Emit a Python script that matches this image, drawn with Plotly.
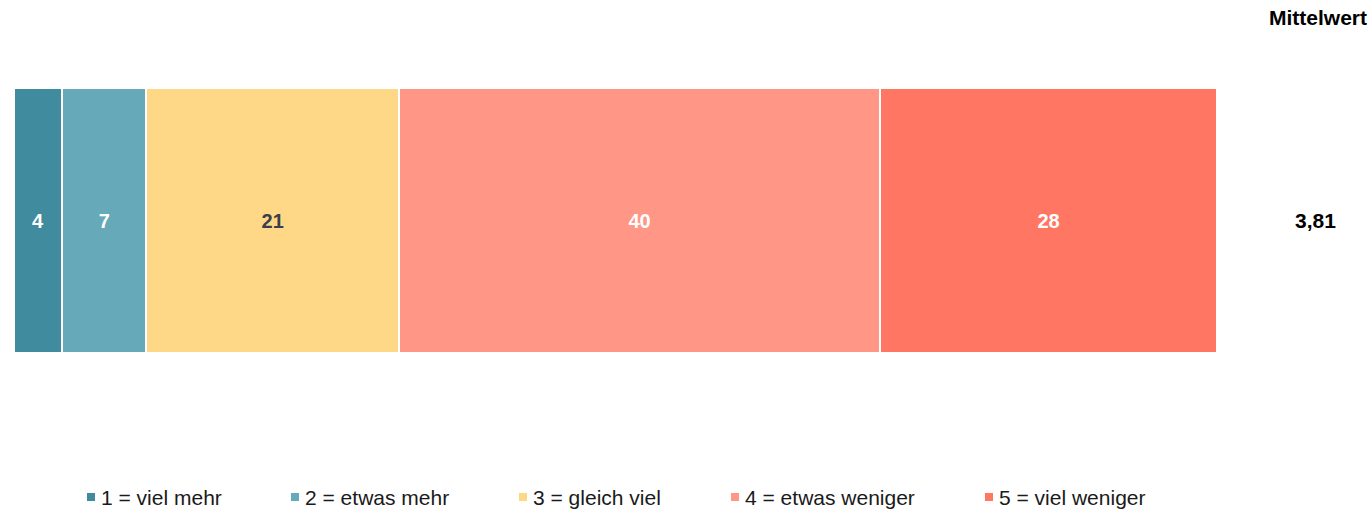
import plotly.graph_objects as go

W, H = 1372, 510

# data
CATEGORIES = ["1 = viel mehr", "2 = etwas mehr", "3 = gleich viel",
              "4 = etwas weniger", "5 = viel weniger"]
VALUES = [4, 7, 21, 40, 28]
MEAN = 3.81
MEAN_TITLE = "Mittelwert"

COLORS = ["#408C9E", "#66AAB9", "#FED887", "#FF9686", "#FF7663"]
TEXT_COLORS = ["white", "white", "#3A3F4B", "white", "white"]

FONT = "Liberation Sans, Arial, sans-serif"

# legend layout (pixel positions of the square markers)
LEGEND_X = [87, 291, 519, 731, 985]
LEGEND_Y = 497
SQ = 8


def px_x(x):
    return x / W


def px_y(y):
    return 1 - y / H


fig = go.Figure()

for name, val, color, tcolor in zip(CATEGORIES, VALUES, COLORS, TEXT_COLORS):
    fig.add_trace(go.Bar(
        x=[val],
        y=[0],
        name=name,
        orientation="h",
        width=0.5196,
        marker=dict(color=color, line=dict(color="white", width=2)),
        text=[str(val)],
        textposition="inside",
        insidetextanchor="middle",
        textangle=0,
        constraintext="none",
        textfont=dict(family=FONT, size=20, color=tcolor, weight="bold"),
        hovertemplate="%{fullData.name}: %{x}<extra></extra>",
    ))

# mean column
fig.add_annotation(
    x=px_x(1315), xref="paper", y=0, yref="y",
    text="<b>" + f"{MEAN:.2f}".replace(".", ",") + "</b>",
    showarrow=False, xanchor="center", yanchor="middle",
    font=dict(family=FONT, size=21, color="black"),
)
fig.add_annotation(
    x=px_x(1369), xref="paper", y=px_y(18), yref="paper",
    text="<b>" + MEAN_TITLE + "</b>",
    showarrow=False, xanchor="right", yanchor="middle",
    font=dict(family=FONT, size=21, color="black"),
)

# legend drawn by hand: small squares close to the text
for name, color, lx in zip(CATEGORIES, COLORS, LEGEND_X):
    fig.add_shape(
        type="rect", xref="paper", yref="paper",
        x0=px_x(lx), x1=px_x(lx + SQ),
        y0=px_y(LEGEND_Y + SQ / 2), y1=px_y(LEGEND_Y - SQ / 2),
        fillcolor=color, line=dict(width=0),
    )
    fig.add_annotation(
        x=px_x(lx + 12), xref="paper", y=px_y(LEGEND_Y), yref="paper",
        text=name, showarrow=False, xanchor="left", yanchor="middle",
        font=dict(family=FONT, size=21, color="#1a1a1a"),
    )

fig.update_layout(
    width=W,
    height=H,
    barmode="stack",
    showlegend=False,
    paper_bgcolor="white",
    plot_bgcolor="white",
    margin=dict(l=0, r=0, t=0, b=0),
    xaxis=dict(domain=[px_x(14), px_x(1217)], range=[0, 100],
               visible=False, fixedrange=True),
    yaxis=dict(range=[-0.5676, 0.4324], visible=False, fixedrange=True),
)

# remove the default body margin so the figure fills the window exactly
fig.write_html("out.html", config={"displayModeBar": False},
               post_script="document.body.style.margin='0';"
                           "document.body.style.overflow='hidden';")
